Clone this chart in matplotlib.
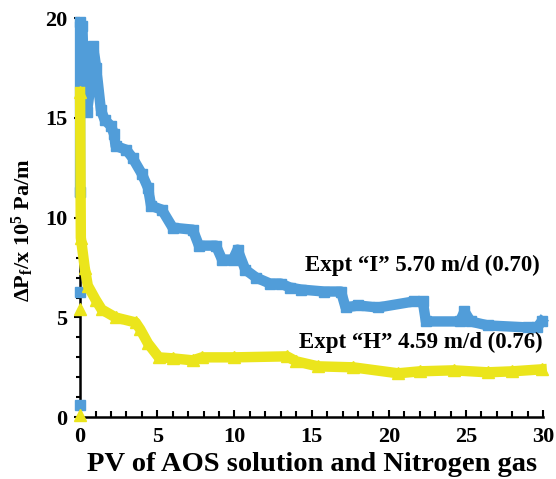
import matplotlib.pyplot as plt
from matplotlib.ticker import MultipleLocator

# Expt "I" (azul)
pv_i = [0, 0, 0.15, 0.25, 0.45, 0.65, 0.85, 1.05, 1.35, 1.6, 2.0, 2.2, 2.3, 3.0, 3.4,
        4.0, 4.4, 4.6, 5.3, 6.0, 7.3, 7.7, 8.8, 9.2, 9.9, 10.2, 10.7, 11.4, 12.3, 13.0,
        13.6, 14.3, 15.8, 16.9, 17.2, 18.0, 19.3, 21.6, 22.2, 22.4, 24.6, 24.9, 25.3, 26.4,
        29.0, 29.6, 29.9]
dp_i = [11.3, 19.8, 19.6, 17.2, 15.3, 16.5, 18.6, 17.5, 15.4, 14.9, 14.6, 14.2, 13.6,
        13.4, 13.0, 12.2, 11.5, 10.6, 10.4, 9.5, 9.4, 8.6, 8.6, 7.9, 7.9, 8.4, 7.4, 7.0,
        6.7, 6.7, 6.5, 6.4, 6.3, 6.3, 5.5, 5.6, 5.5, 5.8, 5.8, 4.8, 4.8, 5.3, 4.8, 4.6, 4.5,
        4.5, 4.8]
pv_i0 = [0, 0]
dp_i0 = [0.6, 6.3]

# Expt "H" (amarillo)
pv_h = [0, 0.05, 0.3, 0.5, 1.0, 1.4, 2.3, 3.6, 3.9, 4.4, 5.1, 6.0, 7.3, 7.9, 10.0,
        13.4, 14.0, 15.4, 17.7, 20.6, 22.0, 24.2, 26.4, 28.0, 29.9]
dp_h = [16.3, 9.0, 7.5, 6.6, 5.9, 5.4, 5.0, 4.75, 4.4, 3.7, 3.0, 2.95, 2.85, 3.0, 3.0,
        3.05, 2.8, 2.55, 2.5, 2.2, 2.3, 2.35, 2.25, 2.3, 2.4]
pv_h0 = [0, 0]
dp_h0 = [0.1, 5.4]

azul = '#519dd9'
amarillo = '#ebe51c'

plt.rcParams['font.family'] = 'Liberation Serif'
plt.rcParams['font.weight'] = 'bold'
plt.rcParams['mathtext.fontset'] = 'custom'
plt.rcParams['mathtext.rm'] = 'Liberation Serif:bold'
plt.rcParams['mathtext.it'] = 'Liberation Serif:italic:bold'
plt.rcParams['mathtext.bf'] = 'Liberation Serif:bold'

fig = plt.figure(figsize=(5.56, 4.79), dpi=100)
ax = fig.add_axes([0.144, 0.129, 0.833, 0.833])

ax.plot(pv_i, dp_i, color=azul, lw=7.5, marker='s', ms=7, solid_joinstyle='round',
        clip_on=False, zorder=3)
ax.plot(pv_i0, dp_i0, color=azul, ls='none', marker='s', ms=7, clip_on=False, zorder=3)
ax.plot(pv_h, dp_h, color=amarillo, lw=7.5, marker='^', ms=8, solid_joinstyle='round',
        clip_on=False, zorder=4)
ax.plot(pv_h0, dp_h0, color=amarillo, ls='none', marker='^', ms=8, clip_on=False, zorder=4)

ax.text(14.6, 7.6, 'Expt \u201cI\u201d 5.70 m/d (0.70)', fontsize=16.5, fontweight='bold',
        va='center', ha='left')
ax.text(14.2, 3.75, 'Expt \u201cH\u201d 4.59 m/d (0.76)', fontsize=16.5, fontweight='bold',
        va='center', ha='left')

ax.set_xlim(0, 30)
ax.set_ylim(0, 20)
ax.xaxis.set_major_locator(MultipleLocator(5))
ax.xaxis.set_minor_locator(MultipleLocator(1))
ax.yaxis.set_major_locator(MultipleLocator(5))
ax.yaxis.set_minor_locator(MultipleLocator(1))
ax.tick_params(axis='x', which='both', direction='in', width=1.5, labelsize=16, pad=7)
ax.tick_params(axis='x', which='major', length=5)
ax.tick_params(axis='x', which='minor', length=4)
ax.tick_params(axis='y', which='both', direction='out', width=1.5, labelsize=16, pad=5)
ax.tick_params(axis='y', which='major', length=4)
ax.tick_params(axis='y', which='minor', length=3)
for s in ['top', 'right']:
    ax.spines[s].set_visible(False)
for s in ['left', 'bottom']:
    ax.spines[s].set_linewidth(1.8)

ax.set_xlabel('PV of AOS solution and Nitrogen gas', fontsize=20.5, fontweight='bold', labelpad=4)
ax.set_ylabel('\u0394P$_\\mathrm{f}$/x 10$^{5}$ Pa/m', fontsize=16, fontweight='bold')
ax.yaxis.set_label_coords(-0.095, 0.47)

plt.savefig('out.png', dpi=100)
